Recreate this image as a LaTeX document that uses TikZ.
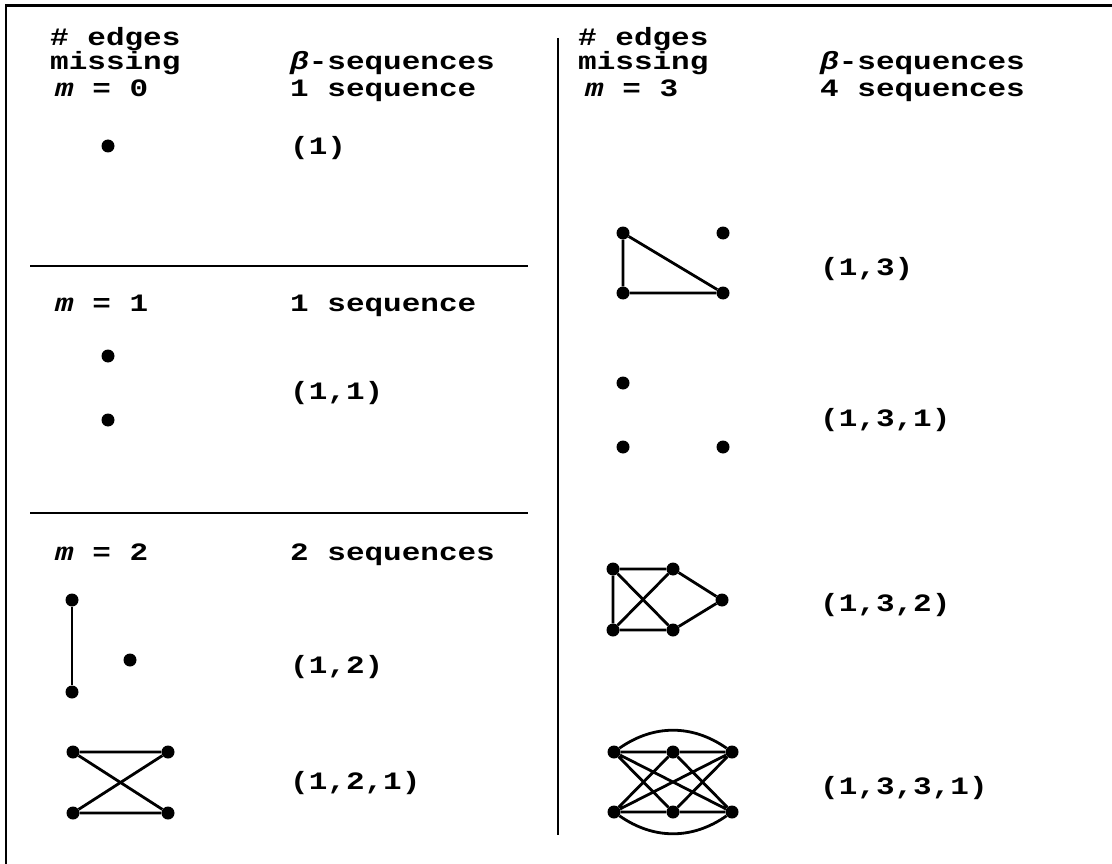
\documentclass[tikz,border=0pt]{standalone}
\usepackage{fontspec}
\newfontfamily\cour{Liberation Mono}[FakeStretch=1.24]
\begin{document}
\begin{tikzpicture}[x=1pt,y=-1pt,
  txt/.style={font=\cour\bfseries\fontsize{25}{26}\selectfont, anchor=base west, inner sep=0pt},
  vx/.style={circle,fill,inner sep=0pt,minimum size=13pt},
  ed/.style={line width=2.8pt},
  rule/.style={line width=2pt}]
\useasboundingbox (0,0) rectangle (1112,864);
% frame
\coordinate (f1) at (5,6); \coordinate (f2) at (1112,6); \coordinate (f0) at (6,6); \coordinate (f3) at (6,864);
\draw[line width=3pt] (f1) -- (f2);
\draw[line width=2pt] (f0) -- (f3);
% separators
\coordinate (h1a) at (30,266); \coordinate (h1b) at (528,266);
\coordinate (h2a) at (30,513); \coordinate (h2b) at (528,513);
\coordinate (va) at (558,38); \coordinate (vb) at (558,835);
\draw[rule] (h1a) -- (h1b);
\draw[rule] (h2a) -- (h2b);
\draw[rule] (va) -- (vb);
% headers left
\node[txt] (hl1) at (50,46) {\# edges};
\node[txt] (hl2) at (50,70) {missing};
\node[txt] (hl3) at (290,70) {{\itshape β}-sequences};
% headers right
\node[txt] (hr1) at (578,46) {\# edges};
\node[txt] (hr2) at (578,70) {missing};
\node[txt] (hr3) at (820,70) {{\itshape β}-sequences};
% m = 0
\node[txt] (m0) at (55,97) {{\itshape m} = 0};
\node[txt] (s0) at (290,97) {1 sequence};
\node[vx] (a1) at (108,146) {};
\node[txt] (q1) at (290,155) {(1)};
% m = 1
\node[txt] (m1) at (55,311) {{\itshape m} = 1};
\node[txt] (s1) at (290,311) {1 sequence};
\node[vx] (b1) at (108,356) {};
\node[vx] (b2) at (108,420) {};
\node[txt] (q2) at (290,399) {(1,1)};
% m = 2
\node[txt] (m2) at (55,560) {{\itshape m} = 2};
\node[txt] (s2) at (290,560) {2 sequences};
\node[vx] (c1) at (72,600) {};
\node[vx] (c2) at (72,692) {};
\node[vx] (c3) at (130,660) {};
\draw[ed] (c1) -- (c2);
\node[txt] (q3) at (290,673) {(1,2)};
\node[vx] (d1) at (73,752) {};
\node[vx] (d2) at (168,752) {};
\node[vx] (d3) at (73,813) {};
\node[vx] (d4) at (168,813) {};
\draw[ed] (d1) -- (d2) (d3) -- (d4) (d1) -- (d4) (d2) -- (d3);
\node[txt] (q4) at (290,789) {(1,2,1)};
% m = 3
\node[txt] (m3) at (585,97) {{\itshape m} = 3};
\node[txt] (s3) at (820,97) {4 sequences};
\node[vx] (e1) at (623,233) {};
\node[vx] (e2) at (723,233) {};
\node[vx] (e3) at (623,293) {};
\node[vx] (e4) at (723,293) {};
\draw[ed] (e1) -- (e3) (e3) -- (e4) (e1) -- (e4);
\node[txt] (q5) at (820,275) {(1,3)};
\node[vx] (g1) at (623,383) {};
\node[vx] (g2) at (623,447) {};
\node[vx] (g3) at (723,447) {};
\node[txt] (q6) at (820,426) {(1,3,1)};
\node[vx] (k1) at (613,569) {};
\node[vx] (k2) at (673,569) {};
\node[vx] (k3) at (722,600) {};
\node[vx] (k4) at (613,630) {};
\node[vx] (k5) at (673,630) {};
\draw[ed] (k1) -- (k2) (k1) -- (k4) (k4) -- (k5) (k1) -- (k5) (k4) -- (k2) (k2) -- (k3) (k5) -- (k3);
\node[txt] (q7) at (820,611) {(1,3,2)};
\node[vx] (p1) at (614,752) {};
\node[vx] (p2) at (673,752) {};
\node[vx] (p3) at (732,752) {};
\node[vx] (p4) at (614,812) {};
\node[vx] (p5) at (673,812) {};
\node[vx] (p6) at (732,812) {};
\draw[ed] (p1) -- (p2) (p2) -- (p3) (p4) -- (p5) (p5) -- (p6)
  (p1) -- (p5) (p1) -- (p6) (p2) -- (p4) (p2) -- (p6) (p3) -- (p4) (p3) -- (p5);
\draw[ed] (p1) to[out=35,in=145] (p3);
\draw[ed] (p4) to[out=-35,in=-145] (p6);
\node[txt] (q8) at (820,794) {(1,3,3,1)};
\end{tikzpicture}
\end{document}
